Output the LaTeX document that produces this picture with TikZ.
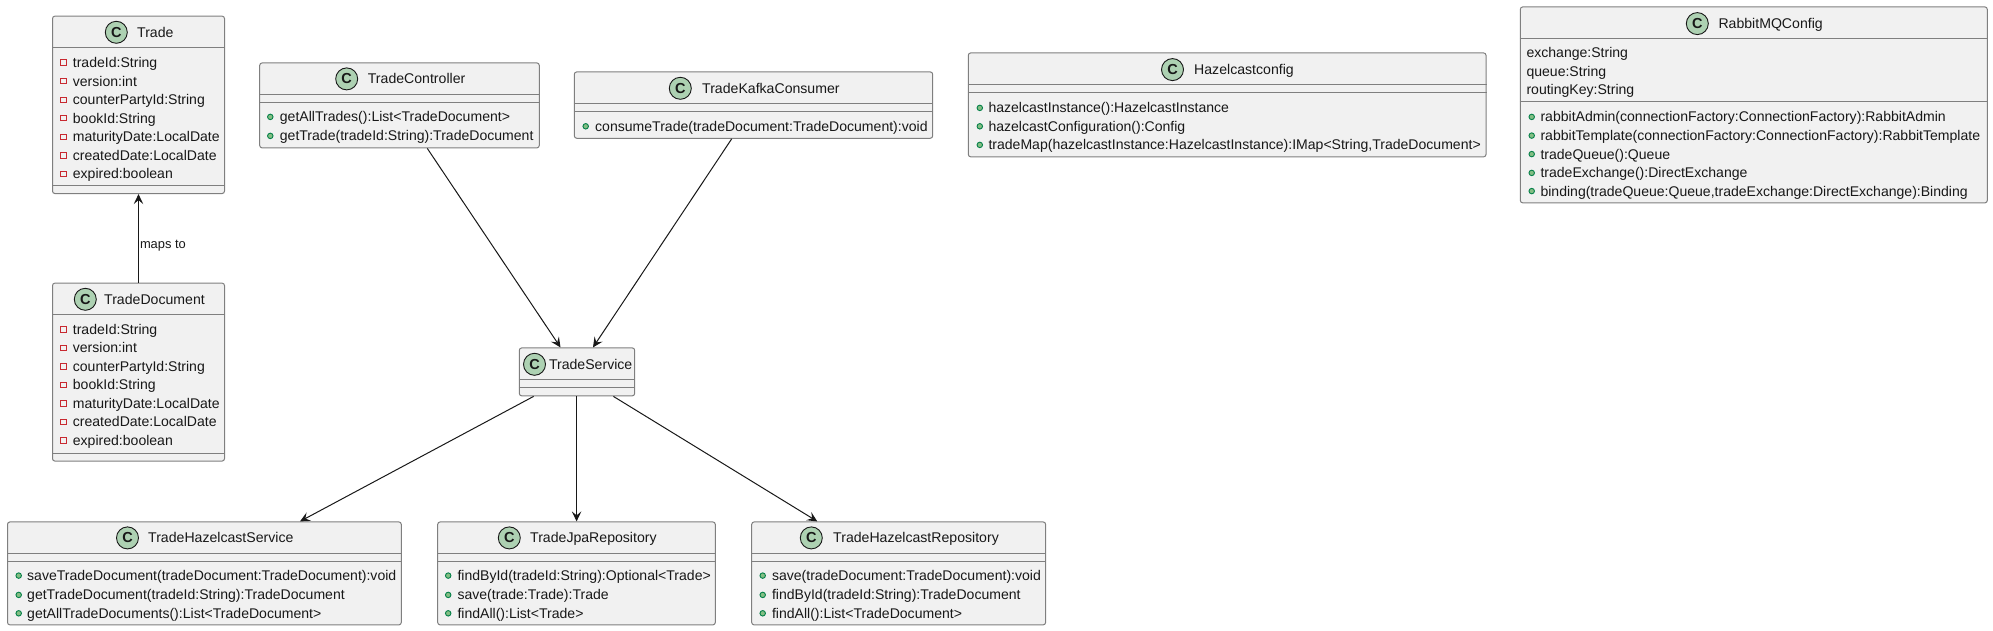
\documentclass[tikz,border=0pt]{standalone}
\usepackage{fontspec}
\setmainfont{Liberation Sans}
\usetikzlibrary{arrows.meta,fit}
\definecolor{boxfill}{HTML}{F1F1F1}
\definecolor{boxline}{HTML}{7F7F7F}
\definecolor{inkc}{HTML}{181818}
\definecolor{iconfill}{HTML}{ADD1B2}
\definecolor{pubfill}{HTML}{84BE84}
\definecolor{publine}{HTML}{038048}
\definecolor{privline}{HTML}{C82930}
\newcounter{tcnt}
\tikzset{
  x=1pt,y=-1pt,
  classbox/.style={draw=boxline,fill=boxfill,line width=1pt,rounded corners=2.5pt,inner sep=0pt},
  divider/.style={draw=boxline,line width=1pt},
  txt/.style={anchor=base west,inner sep=0pt,text=inkc,font=\fontsize{14.05}{16}\selectfont},
  ttl/.style={anchor=base west,inner sep=0pt,text=inkc,font=\fontsize{14.1}{16}\selectfont},
  lbl/.style={anchor=base west,inner sep=0pt,text=inkc,font=\fontsize{12.9}{15}\selectfont},
  iconc/.style={circle,draw=inkc,fill=iconfill,line width=.9pt,minimum size=22pt,inner sep=0pt,text=inkc,font=\bfseries\fontsize{14.5}{16}\selectfont},
  pubdot/.style={circle,draw=publine,fill=pubfill,line width=.9pt,minimum size=5.5pt,inner sep=0pt},
  privsq/.style={rectangle,draw=privline,fill=boxfill,line width=.9pt,minimum size=5.5pt,inner sep=0pt},
  conn/.style={draw=inkc,line width=1pt,-{Stealth[length=10pt,width=9.5pt,inset=4pt,fill=inkc]}},
}
\newcommand{\classshape}[5]{\node[classbox,fit={(#2,#3)(#4,#5)}] (#1) {};}
\newcommand{\divline}[2]{\draw[divider] (#1.west |- 0,#2) -- (#1.east |- 0,#2);}
\newcommand{\header}[5]{%
  \node[iconc] (#1i) at (#2,#3) {C};
  \node[ttl] (#1t) at (#4,#3+5) {#5};}
\newcommand{\mtext}[3]{\stepcounter{tcnt}\node[txt] (t\thetcnt) at (#1,#2+5) {#3};}
\newcommand{\pub}[2]{\stepcounter{tcnt}\node[pubdot] (d\thetcnt) at (#1,#2) {};}
\newcommand{\priv}[2]{\stepcounter{tcnt}\node[privsq] (s\thetcnt) at (#1,#2) {};}
\newcommand{\attr}[4]{\priv{#1}{#3}\mtext{#2}{#3}{#4}}
\newcommand{\meth}[4]{\pub{#1}{#3}\mtext{#2}{#3}{#4}}
\begin{document}
\begin{tikzpicture}
\useasboundingbox (0,0.4) rectangle (1993,631.4);
% Trade
\classshape{trade}{52.5}{16.5}{224.5}{194}
\divline{trade}{48.3}\divline{trade}{186.3}
\header{trade}{116.3}{32.7}{137}{Trade}
\attr{63.3}{72.7}{63}{tradeId:String}
\attr{63.3}{72.7}{81.5}{version:int}
\attr{63.3}{72.7}{100.3}{counterPartyId:String}
\attr{63.3}{72.7}{118.5}{bookId:String}
\attr{63.3}{72.7}{137.3}{maturityDate:LocalDate}
\attr{63.3}{72.7}{156}{createdDate:LocalDate}
\attr{63.3}{72.7}{174.3}{expired:boolean}
% TradeDocument
\classshape{tdoc}{52.5}{283.5}{224.5}{461.5}
\divline{tdoc}{315.3}\divline{tdoc}{453.5}
\header{tdoc}{85.3}{299.7}{104}{TradeDocument}
\attr{63.3}{72.7}{329.7}{tradeId:String}
\attr{63.3}{72.7}{348.3}{version:int}
\attr{63.3}{72.7}{366.7}{counterPartyId:String}
\attr{63.3}{72.7}{385.3}{bookId:String}
\attr{63.3}{72.7}{404}{maturityDate:LocalDate}
\attr{63.3}{72.7}{422.3}{createdDate:LocalDate}
\attr{63.3}{72.7}{441}{expired:boolean}
% TradeController
\classshape{tctl}{259.7}{63.3}{539.3}{148.3}
\divline{tctl}{95.3}\divline{tctl}{103.3}
\header{tctl}{346.7}{79.3}{367.7}{TradeController}
\meth{270.3}{279.7}{117.3}{getAllTrades():List<TradeDocument>}
\meth{270.3}{279.7}{136.3}{getTrade(tradeId:String):TradeDocument}
% TradeKafkaConsumer
\classshape{tkc}{574.3}{72.3}{932.7}{138.7}
\divline{tkc}{104.3}\divline{tkc}{112.3}
\header{tkc}{680.3}{88.7}{702}{TradeKafkaConsumer}
\meth{585.7}{595}{126.7}{consumeTrade(tradeDocument:TradeDocument):void}
% Hazelcastconfig
\classshape{hzc}{968.3}{53.3}{1486}{157.3}
\divline{hzc}{85.3}\divline{hzc}{93.3}
\header{hzc}{1172.5}{70}{1194}{Hazelcastconfig}
\meth{979.8}{988.3}{108.3}{hazelcastInstance():HazelcastInstance}
\meth{979.8}{988.3}{126.7}{hazelcastConfiguration():Config}
\meth{979.8}{988.3}{145.3}{tradeMap(hazelcastInstance:HazelcastInstance):IMap<String,TradeDocument>}
% RabbitMQConfig
\classshape{rmq}{1520.3}{7.3}{1987.3}{203.3}
\divline{rmq}{39.3}\divline{rmq}{102.3}
\header{rmq}{1697.3}{24}{1718.3}{RabbitMQConfig}
\mtext{1526.3}{53.3}{exchange:String}
\mtext{1526.3}{72.3}{queue:String}
\mtext{1526.3}{90.3}{routingKey:String}
\meth{1531.7}{1540.3}{117.3}{rabbitAdmin(connectionFactory:ConnectionFactory):RabbitAdmin}
\meth{1531.7}{1540.3}{136}{rabbitTemplate(connectionFactory:ConnectionFactory):RabbitTemplate}
\meth{1531.7}{1540.3}{154.5}{tradeQueue():Queue}
\meth{1531.7}{1540.3}{173.3}{tradeExchange():DirectExchange}
\meth{1531.7}{1540.3}{191.5}{binding(tradeQueue:Queue,tradeExchange:DirectExchange):Binding}
% TradeService
\classshape{tsv}{519.3}{348.3}{634.7}{396.3}
\divline{tsv}{380.3}\divline{tsv}{388.3}
\header{tsv}{534.5}{364.7}{548.8}{TradeService}
% TradeHazelcastService
\classshape{ths}{7.5}{522.3}{401.3}{625.3}
\divline{ths}{554.3}\divline{ths}{562.3}
\header{ths}{127.5}{538.3}{148}{TradeHazelcastService}
\meth{18.7}{27}{576}{saveTradeDocument(tradeDocument:TradeDocument):void}
\meth{18.7}{27}{595.3}{getTradeDocument(tradeId:String):TradeDocument}
\meth{18.7}{27}{613.7}{getAllTradeDocuments():List<TradeDocument>}
% TradeJpaRepository
\classshape{tjr}{437.7}{522.3}{715.3}{625.3}
\divline{tjr}{554.3}\divline{tjr}{562.3}
\header{tjr}{509.3}{538.3}{530}{TradeJpaRepository}
\meth{448.2}{457.3}{576}{findById(tradeId:String):Optional<Trade>}
\meth{448.2}{457.3}{595.3}{save(trade:Trade):Trade}
\meth{448.2}{457.3}{613.7}{findAll():List<Trade>}
% TradeHazelcastRepository
\classshape{thr}{751.7}{522.3}{1045.6}{625.3}
\divline{thr}{554.3}\divline{thr}{562.3}
\header{thr}{811.3}{538.3}{833}{TradeHazelcastRepository}
\meth{762.7}{771.8}{576}{save(tradeDocument:TradeDocument):void}
\meth{762.7}{771.8}{595.3}{findById(tradeId:String):TradeDocument}
\meth{762.7}{771.8}{613.7}{findAll():List<TradeDocument>}
% connectors
\draw[conn] (tdoc.north) -- node[lbl,pos=.42,xshift=1pt,yshift=-3.5pt,anchor=base west] (mapslbl) {maps to} (trade.south);
\draw[conn] ([xshift=27.8pt]tctl.south) -- ([xshift=-16.5pt]tsv.north);
\draw[conn] ([xshift=-21.8pt]tkc.south) -- ([xshift=16pt]tsv.north);
\draw[conn] ([xshift=-43.4pt]tsv.south) -- ([xshift=95.6pt]ths.north);
\draw[conn] ([xshift=-.4pt]tsv.south) -- ([xshift=.1pt]tjr.north);
\draw[conn] ([xshift=36.4pt]tsv.south) -- ([xshift=-81.35pt]thr.north);
\end{tikzpicture}
\end{document}
